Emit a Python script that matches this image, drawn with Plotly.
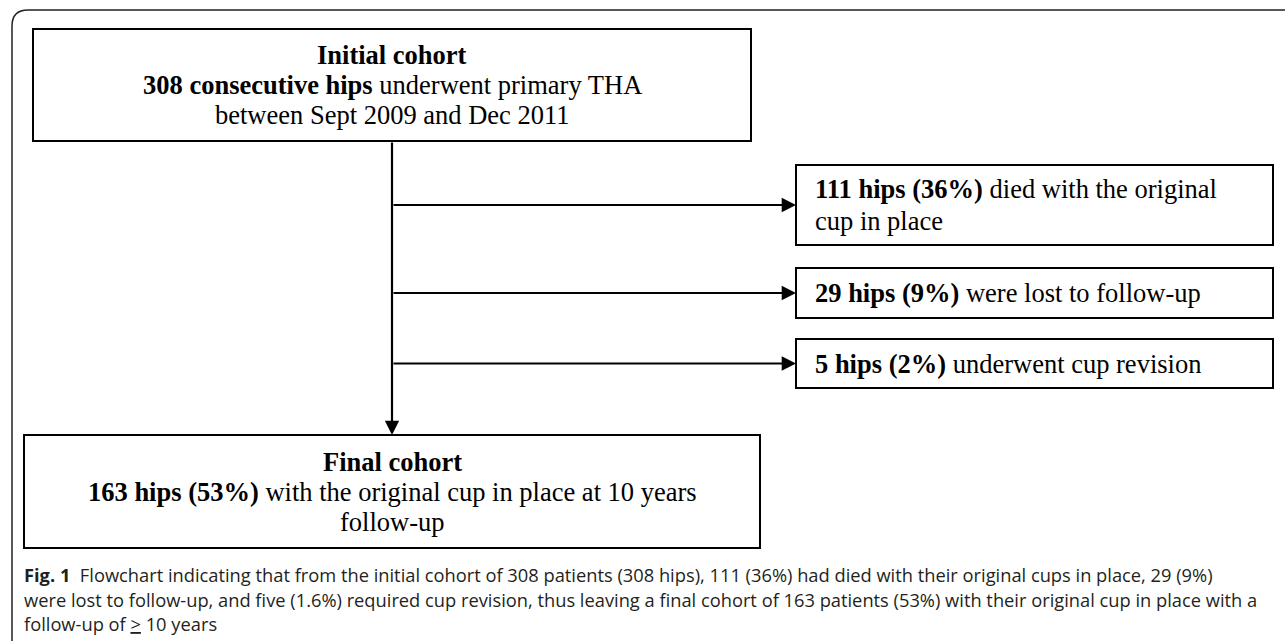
import plotly.graph_objects as go

# ---- data ----
initial_hips = 308
initial_period = "between Sept 2009 and Dec 2011"
excl_counts = [111, 29, 5]
excl_pcts = [36, 9, 2]
excl_reasons = [["died with the original", "cup in place"],
                ["were lost to follow-up"],
                ["underwent cup revision"]]
final_hips = 163
final_pct = 53
caption_lines = [
    "<b>Fig. 1</b>  Flowchart indicating that from the initial cohort of 308 patients (308 hips), 111 (36%) had died with their original cups in place, 29 (9%)",
    "were lost to follow-up, and five (1.6%) required cup revision, thus leaving a final cohort of 163 patients (53%) with their original cup in place with a",
    "follow-up of <u>></u> 10 years",
]

# ---- layout geometry ----
W, H = 1285, 641
init_box = (33, 29, 751, 141)
final_box = (24, 435, 760, 548)
trunk_x = 392
side_left, side_right = 796, 1273
side_boxes = [(165, 245), (268, 318), (339, 388)]
serif = "Liberation Serif, Times New Roman, serif"
sans = "Open Sans, Noto Sans, sans-serif"
FS = 26.5
LH = 30

fig = go.Figure()
shapes = []
ann = []

# outer frame (top + left with rounded corner)
shapes.append(dict(type="path", path=f"M 12,{H} L 12,26 Q 12,10 28,10 L {W},10",
                   line=dict(color="#222", width=1.5), xref="x", yref="y"))

def rect(b):
    shapes.append(dict(type="rect", x0=b[0], y0=b[1], x1=b[2], y1=b[3],
                       line=dict(color="black", width=2), xref="x", yref="y"))

rect(init_box)
rect(final_box)
for (t, b) in side_boxes:
    rect((side_left, t, side_right, b))

def text(x, y, s, xanchor="center", font=serif, size=FS, color="black"):
    ann.append(dict(x=x, y=y, xref="x", yref="y", text=s, showarrow=False,
                    xanchor=xanchor, yanchor="middle",
                    font=dict(family=font, size=size, color=color)))

# initial box text
cx = (init_box[0] + init_box[2]) / 2
cy = (init_box[1] + init_box[3]) / 2
init_lines = ["<b>Initial cohort</b>",
              f"<b>{initial_hips} consecutive hips</b> underwent primary THA",
              initial_period]
for i, s in enumerate(init_lines):
    text(cx, cy + (i - 1) * LH, s)

# final box text
fx = (final_box[0] + final_box[2]) / 2
fy = (final_box[1] + final_box[3]) / 2
final_lines = ["<b>Final cohort</b>",
               f"<b>{final_hips} hips ({final_pct}%)</b> with the original cup in place at 10 years",
               "follow-up"]
for i, s in enumerate(final_lines):
    text(fx, fy + (i - 1) * LH, s)

arrow_style = dict(arrowhead=2, arrowsize=1.3, arrowwidth=2.2, arrowcolor="black",
                   standoff=0, startstandoff=0)

# side boxes text + arrows
for (t, b), n, p, reason in zip(side_boxes, excl_counts, excl_pcts, excl_reasons):
    my = (t + b) / 2
    lines = [f"<b>{n} hips ({p}%)</b> {reason[0]}"] + reason[1:]
    k = len(lines)
    for i, s in enumerate(lines):
        text(side_left + 17, my + (i - (k - 1) / 2) * 32, s, xanchor="left")
    ann.append(dict(x=side_left, y=my, ax=trunk_x, ay=my, xref="x", yref="y",
                    axref="x", ayref="y", text="", showarrow=True, **arrow_style))

# trunk arrow
ann.append(dict(x=trunk_x, y=final_box[1], ax=trunk_x, ay=init_box[3], xref="x", yref="y",
                axref="x", ayref="y", text="", showarrow=True, **arrow_style))

# caption
cap_y = [574, 599, 623]
for s, y in zip(caption_lines, cap_y):
    text(22, y, s, xanchor="left", font=sans, size=18.3, color="#231f20")

fig.update_layout(
    width=W, height=H, margin=dict(l=0, r=0, t=0, b=0),
    paper_bgcolor="white", plot_bgcolor="white",
    xaxis=dict(range=[0, W], visible=False, fixedrange=True),
    yaxis=dict(range=[H, 0], visible=False, fixedrange=True),
    shapes=shapes, annotations=ann, showlegend=False,
)
fig.write_html("out.html", config={"displayModeBar": False},
               post_script="document.body.style.margin='0';document.body.style.overflow='hidden';")
